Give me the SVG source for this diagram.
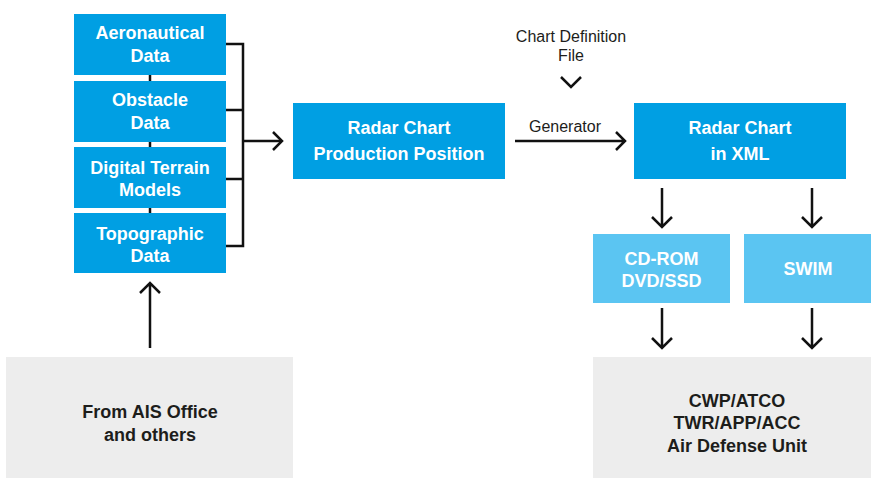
<svg xmlns="http://www.w3.org/2000/svg" width="871" height="479" viewBox="0 0 871 479">
<style>
.blue{fill:#009fe3}
.lblue{fill:#5bc5f2}
.gray{fill:#ededed}
.wt{font-family:"Liberation Sans",Arial,sans-serif;font-weight:bold;font-size:18px;fill:#ffffff;text-anchor:middle}
.dt{font-family:"Liberation Sans",Arial,sans-serif;font-weight:bold;font-size:18px;fill:#1d1d1b;text-anchor:middle}
.lt{font-family:"Liberation Sans",Arial,sans-serif;font-size:16px;fill:#1d1d1b;text-anchor:middle}
.ln{fill:none;stroke:#111111;stroke-width:2.5;stroke-linecap:butt;stroke-linejoin:miter}
</style>
<rect width="871" height="479" fill="#ffffff"/>
<g id="connectors">
<path class="ln" d="M150,44 V244"/>
<path class="ln" d="M226,44 H243 V246 H226 M226,110 H243 M226,179 H243 M243,141 H281"/>
<path class="ln" d="M273,132 L282,141 L273,150"/>
<path class="ln" d="M515,141 H624 M616,132 L625,141 L616,150"/>
<path class="ln" d="M561,77 L571,87 L581,77"/>
<path class="ln" d="M662,188 V226 M652,217 L662,227 L672,217"/>
<path class="ln" d="M812,188 V226 M802,217 L812,227 L822,217"/>
<path class="ln" d="M662,308 V347 M652,338 L662,348 L672,338"/>
<path class="ln" d="M812,308 V347 M802,338 L812,348 L822,338"/>
<path class="ln" d="M150,348 V284 M140,293 L150,283 L160,293"/>
</g>
<g id="aeronautical"><rect class="blue" x="74" y="14" width="152" height="61"/><text class="wt" x="150" y="39">Aeronautical</text><text class="wt" x="150" y="61.5">Data</text></g>
<g id="obstacle"><rect class="blue" x="74" y="81" width="152" height="61"/><text class="wt" x="150" y="106">Obstacle</text><text class="wt" x="150" y="128.5">Data</text></g>
<g id="terrain"><rect class="blue" x="74" y="147" width="152" height="61"/><text class="wt" x="150" y="174">Digital Terrain</text><text class="wt" x="150" y="196">Models</text></g>
<g id="topographic"><rect class="blue" x="74" y="213" width="152" height="60"/><text class="wt" x="150" y="239.5">Topographic</text><text class="wt" x="150" y="261.5">Data</text></g>
<g id="production"><rect class="blue" x="293" y="103" width="212" height="76"/><text class="wt" x="399" y="133.5">Radar Chart</text><text class="wt" x="399" y="159.5">Production Position</text></g>
<g id="xml"><rect class="blue" x="634" y="103" width="212" height="76"/><text class="wt" x="740" y="133.5">Radar Chart</text><text class="wt" x="740" y="159.5">in XML</text></g>
<g id="cdrom"><rect class="lblue" x="593" y="234" width="137" height="69"/><text class="wt" x="661.5" y="265">CD-ROM</text><text class="wt" x="661.5" y="287">DVD/SSD</text></g>
<g id="swim"><rect class="lblue" x="744" y="234" width="127" height="69"/><text class="wt" x="808" y="275">SWIM</text></g>
<g id="ais"><rect class="gray" x="6" y="357" width="287" height="121"/><text class="dt" x="150" y="417.5">From AIS Office</text><text class="dt" x="150" y="440.5">and others</text></g>
<g id="users"><rect class="gray" x="593" y="357" width="278" height="121"/><text class="dt" x="737" y="406.5">CWP/ATCO</text><text class="dt" x="737" y="429">TWR/APP/ACC</text><text class="dt" x="737" y="451.5">Air Defense Unit</text></g>
<g id="labels"><text class="lt" x="571" y="41.5">Chart Definition</text><text class="lt" x="571" y="60.5">File</text><text class="lt" x="565" y="131.5">Generator</text></g>
</svg>
